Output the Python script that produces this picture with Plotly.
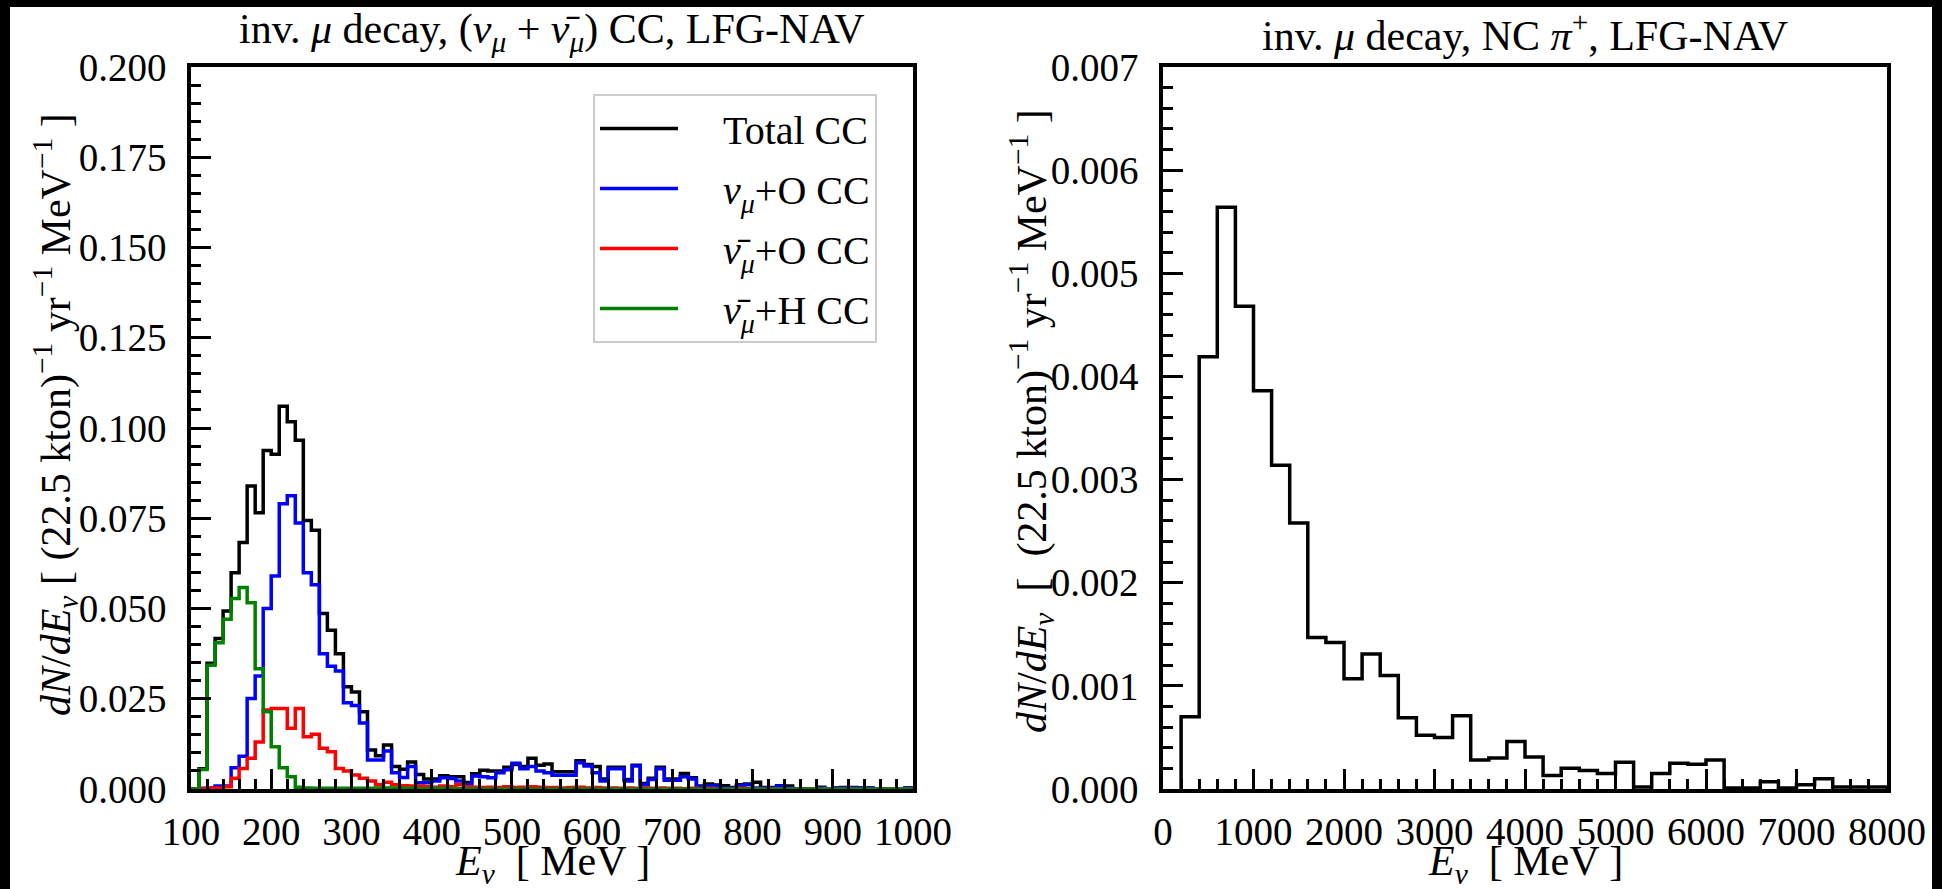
import plotly.graph_objects as go

# ---------------- data ----------------
# Left panel: 10 MeV bins from 100 to 1000 MeV
left_edges_start = 100
left_bin_width = 10
total_cc = [
    0.0, 0.0056, 0.0348, 0.0417, 0.0493, 0.0599, 0.0683, 0.0839, 0.0765, 0.0938,
    0.0927, 0.1060, 0.1017, 0.0966, 0.0744, 0.0717, 0.0486, 0.0440, 0.0375, 0.0283,
    0.0269, 0.0214, 0.0108, 0.0092, 0.0122, 0.0062, 0.0055, 0.0075, 0.0040, 0.0028,
    0.0028, 0.0037, 0.0034, 0.0034, 0.0018, 0.0042, 0.0052, 0.0050, 0.0050, 0.0060,
    0.0068, 0.0062, 0.0085, 0.0066, 0.0069, 0.0048, 0.0048, 0.0048, 0.0078, 0.0068,
    0.0062, 0.0028, 0.0060, 0.0060, 0.0026, 0.0066, 0.0015, 0.0030, 0.0060, 0.0028,
    0.0028, 0.0043, 0.0031, 0.0008, 0.0014, 0.0011, 0.0009, 0.0004, 0.0012, 0.0014,
    0.0019, 0.0004, 0.0004, 0.0009, 0.0008, 0.0, 0.0, 0.0, 0.0005, 0.0,
    0.0003, 0.0004, 0.0004, 0.0003, 0.0003, 0.0, 0.0, 0.0, 0.0, 0.0003,
]
numu_o_cc = [
    0.0, 0.0002, 0.0003, 0.0008, 0.0008, 0.0059, 0.0091, 0.0251, 0.0313, 0.0500,
    0.0590, 0.0790, 0.0812, 0.0737, 0.0599, 0.0566, 0.0375, 0.0340, 0.0327, 0.0239,
    0.0231, 0.0183, 0.0080, 0.0080, 0.0105, 0.0045, 0.0032, 0.0062, 0.0017, 0.0017,
    0.0022, 0.0031, 0.0029, 0.0022, 0.0012, 0.0036, 0.0034, 0.0031, 0.0045, 0.0053,
    0.0071, 0.0056, 0.0062, 0.0050, 0.0045, 0.0038, 0.0038, 0.0038, 0.0073, 0.0064,
    0.0045, 0.0022, 0.0056, 0.0056, 0.0022, 0.0064, 0.0012, 0.0026, 0.0056, 0.0024,
    0.0024, 0.0034, 0.0028, 0.0006, 0.0009, 0.0009, 0.0003, 0.0003, 0.0009, 0.0012,
    0.0003, 0.0003, 0.0003, 0.0008, 0.0003, 0.0, 0.0, 0.0, 0.0003, 0.0,
    0.0003, 0.0003, 0.0003, 0.0003, 0.0003, 0.0, 0.0, 0.0, 0.0, 0.0003,
]
numubar_o_cc = [
    0.0, 0.0, 0.0002, 0.0003, 0.0006, 0.0030, 0.0057, 0.0085, 0.0130, 0.0219,
    0.0223, 0.0223, 0.0168, 0.0223, 0.0145, 0.0152, 0.0113, 0.0103, 0.0057, 0.0050,
    0.0039, 0.0030, 0.0022, 0.0012, 0.0019, 0.0012, 0.0009, 0.0008, 0.0008, 0.0006,
    0.0005, 0.0008, 0.0006, 0.0012, 0.0006, 0.0005, 0.0004, 0.0005, 0.0004, 0.0006,
    0.0004, 0.0005, 0.0006, 0.0005, 0.0004, 0.0004, 0.0003, 0.0004, 0.0005, 0.0003,
    0.0004, 0.0003, 0.0003, 0.0002, 0.0003, 0.0002, 0.0003, 0.0002, 0.0003, 0.0002,
    0.0002, 0.0001, 0.0002, 0.0001, 0.0002, 0.0001, 0.0001, 0.0001, 0.0002, 0.0001,
    0.0001, 0.0001, 0.0001, 0.0001, 0.0001, 0.0, 0.0, 0.0, 0.0001, 0.0,
    0.0, 0.0001, 0.0001, 0.0, 0.0, 0.0, 0.0, 0.0, 0.0, 0.0,
]
numubar_h_cc = [
    0.0, 0.0054, 0.0343, 0.0405, 0.0470, 0.0528, 0.0558, 0.0516, 0.0333, 0.0214,
    0.0117, 0.0059, 0.0034, 0.0005, 0.0003, 0.0002, 0.0002, 0.0002, 0.0002, 0.0002,
    0.0002, 0.0002, 0.0002, 0.0003, 0.0003, 0.0003, 0.0002, 0.0002, 0.0001, 0.0001,
    0.0002, 0.0002, 0.0001, 0.0001, 0.0001, 0.0, 0.0, 0.0, 0.0, 0.0,
    0.0, 0.0, 0.0, 0.0, 0.0, 0.0, 0.0, 0.0, 0.0, 0.0,
    0.0, 0.0, 0.0, 0.0, 0.0, 0.0, 0.0, 0.0, 0.0, 0.0,
    0.0, 0.0, 0.0, 0.0, 0.0, 0.0, 0.0, 0.0, 0.0, 0.0,
    0.0, 0.0, 0.0, 0.0, 0.0, 0.0, 0.0, 0.0, 0.0, 0.0,
    0.0, 0.0, 0.0, 0.0, 0.0, 0.0, 0.0, 0.0, 0.0, 0.0,
]

# Right panel: 200 MeV bins from 200 to 8000 MeV
right_edges_start = 200
right_bin_width = 200
nc_pi_plus = [
    0.00070, 0.00419, 0.00564, 0.00468, 0.00386, 0.00314, 0.00258, 0.00147, 0.00142, 0.00107,
    0.00131, 0.00110, 0.00069, 0.00052, 0.00050, 0.00071, 0.00028, 0.00030, 0.00046, 0.00031,
    0.00013, 0.00020, 0.00018, 0.00015, 0.00026, 0.00002, 0.00015, 0.00025, 0.00024, 0.00028,
    0.00001, 0.00001, 0.00007, 0.00001, 0.00004, 0.00010, 0.00002, 0.00002, 0.00002,
]

NB = "\u00a0"
left_series = [
    ("Total CC", total_cc, "#000000"),
    ("<i>ν<sub>μ</sub></i>+O CC", numu_o_cc, "#0000ff"),
    ("<i>ν̄<sub>μ</sub></i>+O CC", numubar_o_cc, "#ff0000"),
    ("<i>ν̄<sub>μ</sub></i>+H CC", numubar_h_cc, "#008000"),
]

FONT = '"Liberation Serif", "Times New Roman", Times, "DejaVu Serif", serif'
FS_TICK = 39
FS_LEG = 40
FS_LAB = 42
FS_TITLE = 42
LW = 3.5
W, H = 1942, 889


def step_xy(start, width, vals):
    edges = [start + i * width for i in range(len(vals) + 1)]
    xs = [edges[0]] + edges + [edges[-1]]
    ys = [0.0] + list(vals) + [vals[-1], 0.0]
    return xs, ys


fig = go.Figure()
for i, (name, vals, col) in enumerate(left_series):
    xs, ys = step_xy(left_edges_start, left_bin_width, vals)
    fig.add_trace(go.Scatter(x=xs, y=ys, mode="lines", line=dict(shape="hv", color=col, width=LW),
                             name=NB * 4 + name, legendgroup=f"g{i}", xaxis="x", yaxis="y"))

xs, ys = step_xy(right_edges_start, right_bin_width, nc_pi_plus)
fig.add_trace(go.Scatter(x=xs, y=ys, mode="lines", line=dict(shape="hv", color="#000000", width=LW),
                         showlegend=False, xaxis="x2", yaxis="y2"))

# axes geometry (pixels)
L1, R1 = 191, 913
L2, R2 = 1163, 1887
TOP, BOT = 67, 789


def px(x):
    return x / W


def py(y):
    return 1 - y / H


axis_common = dict(
    showline=True, linewidth=3.5, linecolor="black", mirror=True,
    ticks="inside", ticklen=20, tickwidth=3, tickcolor="black",
    showgrid=False, zeroline=False, automargin=False,
    tickfont=dict(family=FONT, size=FS_TICK, color="black"),
)

fig.update_layout(
    template="none",
    width=W, height=H, autosize=False,
    margin=dict(l=0, r=0, t=0, b=0, pad=0),
    paper_bgcolor="white", plot_bgcolor="white",
    font=dict(family=FONT, size=FS_TICK, color="black"),
    xaxis=dict(domain=[px(L1), px(R1)], range=[100, 1000], dtick=100, tick0=0,
               ticklabelstandoff=5,
               minor=dict(ticks="inside", ticklen=10, tickwidth=2.5, tickcolor="black", dtick=20),
               anchor="y", **axis_common),
    yaxis=dict(domain=[py(BOT), py(TOP)], range=[0, 0.2], dtick=0.025, tickformat=".3f",
               ticklabelstandoff=13,
               minor=dict(ticks="inside", ticklen=10, tickwidth=2.5, tickcolor="black", dtick=0.005),
               anchor="x", **axis_common),
    xaxis2=dict(domain=[px(L2), px(R2)], range=[0, 8000], dtick=1000, tickformat="d",
                ticklabelstandoff=5,
                minor=dict(ticks="inside", ticklen=10, tickwidth=2.5, tickcolor="black", dtick=200),
                anchor="y2", **axis_common),
    yaxis2=dict(domain=[py(BOT), py(TOP)], range=[0, 0.007], dtick=0.001, tickformat=".3f",
                ticklabelstandoff=13,
                minor=dict(ticks="inside", ticklen=10, tickwidth=2.5, tickcolor="black", dtick=0.0002),
                anchor="x2", **axis_common),
    legend=dict(x=px(593), y=py(94), xanchor="left", yanchor="top",
                bgcolor="white", bordercolor="#cccccc", borderwidth=2,
                font=dict(family=FONT, size=FS_LEG, color="black"),
                traceorder="grouped", tracegroupgap=5, itemwidth=78),
    showlegend=True,
)

ann = []
ann.append(dict(text="inv. <i>μ</i> decay, (<i>ν<sub>μ</sub></i>" + NB + "+" + NB + "<i>ν̄<sub>μ</sub></i>) CC, LFG-NAV",
                x=px((L1 + R1) / 2), y=py(32), xref="paper", yref="paper",
                xanchor="center", yanchor="middle", showarrow=False,
                font=dict(family=FONT, size=FS_TITLE)))
ann.append(dict(text="inv. <i>μ</i> decay, NC <i>π</i><sup>+</sup>, LFG-NAV",
                x=px((L2 + R2) / 2), y=py(32), xref="paper", yref="paper",
                xanchor="center", yanchor="middle", showarrow=False,
                font=dict(family=FONT, size=FS_TITLE)))
xlabel = "<i>E<sub>ν</sub></i>" + NB + NB + "[ MeV ]"
for cx in [(L1 + R1) / 2, (L2 + R2) / 2]:
    ann.append(dict(text=xlabel, x=px(cx), y=py(864), xref="paper", yref="paper",
                    xanchor="center", yanchor="middle", showarrow=False,
                    font=dict(family=FONT, size=FS_LAB)))
ylabel_l = "<i>dN</i>/<i>dE<sub>ν</sub></i> [ (22.5 kton)<sup>−1</sup> yr<sup>−1</sup> MeV<sup>−1</sup> ]"
ylabel_r = "<i>dN</i>/<i>dE<sub>ν</sub></i>" + NB + NB + "[" + NB + NB + "(22.5 kton)<sup>−1</sup> yr<sup>−1</sup> MeV<sup>−1</sup> ]"
ann.append(dict(text=ylabel_l, x=px(55), y=py(415), xref="paper", yref="paper",
                xanchor="center", yanchor="middle", showarrow=False, textangle=-90,
                font=dict(family=FONT, size=FS_LAB)))
ann.append(dict(text=ylabel_r, x=px(1031), y=py(421), xref="paper", yref="paper",
                xanchor="center", yanchor="middle", showarrow=False, textangle=-90,
                font=dict(family=FONT, size=FS_LAB)))
fig.update_layout(annotations=ann)

# black frame strips at image edges
shapes = [
    dict(type="rect", xref="paper", yref="paper", x0=0, x1=px(10), y0=0, y1=1,
         fillcolor="black", line=dict(width=0), layer="above"),
    dict(type="rect", xref="paper", yref="paper", x0=0, x1=1, y0=py(7), y1=1,
         fillcolor="black", line=dict(width=0), layer="above"),
    dict(type="rect", xref="paper", yref="paper", x0=px(1932), x1=1, y0=0, y1=1,
         fillcolor="black", line=dict(width=0), layer="above"),
]
fig.update_layout(shapes=shapes)

fig.write_html("out.html")
